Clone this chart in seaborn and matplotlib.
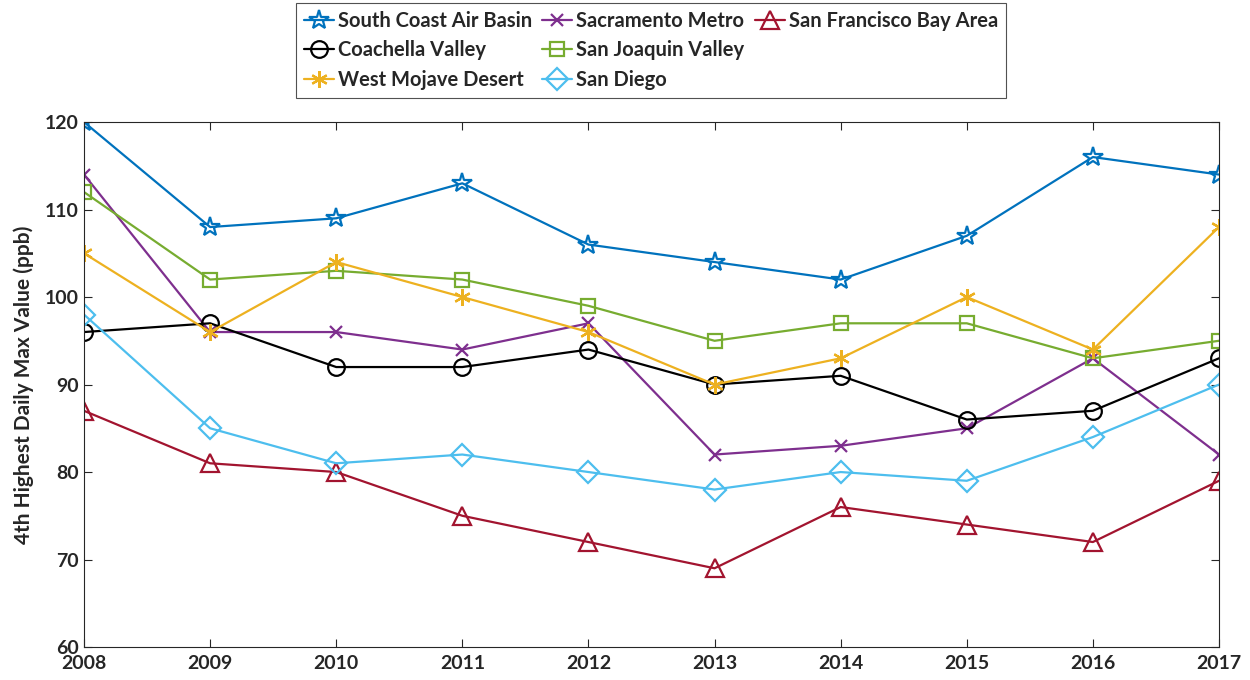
import numpy as np
import pandas as pd
import matplotlib
matplotlib.use("Agg")
import matplotlib.pyplot as plt
from matplotlib.lines import Line2D
import seaborn as sns

# --- data ---
years = [2008, 2009, 2010, 2011, 2012, 2013, 2014, 2015, 2016, 2017]
south_coast = [120, 108, 109, 113, 106, 104, 102, 107, 116, 114]
sacramento = [114, 96, 96, 94, 97, 82, 83, 85, 93, 82]
sf_bay = [87, 81, 80, 75, 72, 69, 76, 74, 72, 79]
coachella = [96, 97, 92, 92, 94, 90, 91, 86, 87, 93]
san_joaquin = [112, 102, 103, 102, 99, 95, 97, 97, 93, 95]
west_mojave = [105, 96, 104, 100, 96, 90, 93, 100, 94, 108]
san_diego = [98, 85, 81, 82, 80, 78, 80, 79, 84, 90]

series_names = ['South Coast Air Basin', 'Sacramento Metro', 'San Francisco Bay Area',
                'Coachella Valley', 'San Joaquin Valley', 'West Mojave Desert', 'San Diego']
series_values = [south_coast, sacramento, sf_bay, coachella, san_joaquin, west_mojave, san_diego]

# MATLAB-ish default colours and markers
colors = ['#0072BD', '#7E2F8E', '#A2142F', '#000000', '#77AC30', '#EDB120', '#4DBEEE']
markers = ['*', 'x', '^', 'o', 's', (6, 2, 0), 'D']
msizes = [15, 9, 13, 12, 10, 12, 11]

df = pd.DataFrame({'year': years})
for name, vals in zip(series_names, series_values):
    df[name] = vals
long_df = df.melt(id_vars='year', var_name='region', value_name='value')

sns.set_style("ticks")
plt.rcParams['font.family'] = ['Lato', 'DejaVu Sans']
plt.rcParams['font.weight'] = 'bold'

fig = plt.figure(figsize=(12.5, 6.8), dpi=100)
ax = fig.add_axes([0.0672, 0.0485, 0.908, 0.772])

for name, c, m, ms in zip(series_names, colors, markers, msizes):
    sub = long_df[long_df['region'] == name]
    sns.lineplot(data=sub, x='year', y='value', ax=ax, color=c, marker=m,
                 markersize=ms, markerfacecolor='none', markeredgecolor=c,
                 markeredgewidth=1.6, linewidth=1.6, label=name)

ax.set_xlim(2008, 2017)
ax.set_ylim(60, 120)
ax.set_xticks(years)
ax.set_yticks(np.arange(60, 121, 10))
ax.set_xlabel('')
ax.set_ylabel('4th Highest Daily Max Value (ppb)', fontsize=15, fontweight='bold',
              color='#262626', labelpad=8)
ax.tick_params(direction='in', length=6, labelsize=14, colors='#262626', top=True, right=True)
ax.tick_params(axis='x', pad=6)
for lab in ax.get_xticklabels() + ax.get_yticklabels():
    lab.set_fontweight('bold')
for sp in ax.spines.values():
    sp.set_visible(True)
    sp.set_color('#262626')
    sp.set_linewidth(0.8)

# legend: MATLAB fills row-wise, matplotlib column-wise -> reorder + blanks
handles, labels = ax.get_legend_handles_labels()
h = dict(zip(labels, handles))
blank = Line2D([], [], linestyle='none', marker=None)
order = ['South Coast Air Basin', 'Coachella Valley', 'West Mojave Desert',
         'Sacramento Metro', 'San Joaquin Valley', 'San Diego',
         'San Francisco Bay Area']
leg_handles = [h[k] for k in order] + [blank, blank]
leg_labels = order + ['', '']
leg = ax.legend(leg_handles, leg_labels, ncol=3, loc='upper center',
                bbox_to_anchor=(0.4995, 1.227), frameon=True, fancybox=False,
                edgecolor='#262626', handlelength=1.5,
                handletextpad=0.2, columnspacing=0.5, labelspacing=0.47,
                borderpad=0.4, borderaxespad=0,
                prop={'weight': 'bold', 'size': 14.5})
leg.get_frame().set_linewidth(0.8)

fig.savefig('out.png', dpi=100)
